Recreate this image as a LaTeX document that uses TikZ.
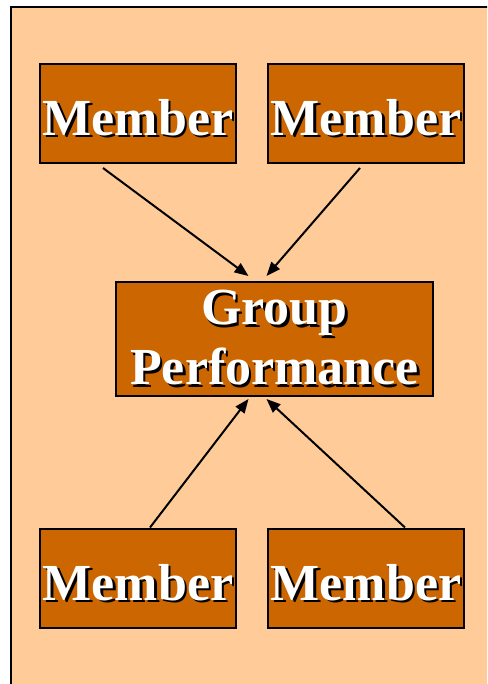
\documentclass[tikz,border=0pt]{standalone}
\usepackage{fontspec}
\setmainfont{Liberation Serif}
\usepackage{xcolor}
\usetikzlibrary{arrows.meta,positioning}

\definecolor{peach}{HTML}{FFCC99}
\definecolor{rust}{HTML}{CC6600}
\newcommand{\shadowtxt}[1]{\rlap{\kern2.5pt\raisebox{-2.5pt}{\textcolor{black}{#1}}}\textcolor{white}{#1}}

\begin{document}
\begin{tikzpicture}[x=1pt,y=-1pt,
    member/.style={draw,line width=2pt,fill=rust,minimum width=196pt,minimum height=99pt,inner sep=0pt,
      text height=44pt,text depth=0pt,font=\fontsize{52}{55}\selectfont\bfseries},
    goal/.style={draw,line width=2pt,fill=rust,minimum width=317pt,minimum height=114pt,inner sep=0pt,
      align=center,font=\fontsize{52}{60}\selectfont\bfseries},
    arrow/.style={-{Triangle[length=14pt,width=11pt]},line width=2pt}]
  \useasboundingbox (0,0) rectangle (487,684);
  \clip (0,0) rectangle (487,684);
  \draw[line width=2pt,fill=peach] (11,7) rectangle (530,730);

  \node[member] (mtl) at (138,113.5) {\shadowtxt{Member}};
  \node[member,right=30pt of mtl] (mtr) {\shadowtxt{Member}};
  \node[goal] (group) at (274.5,339) {\shadowtxt{Group}\\\shadowtxt{Performance}};
  \node[member] (mbl) at (138,578) {\shadowtxt{Member}};
  \node[member,right=30pt of mbl] (mbr) {\shadowtxt{Member}};

  \draw[arrow] ([xshift=-35pt,yshift=-4pt]mtl.south) -- ([xshift=-26pt,yshift=5pt]group.north);
  \draw[arrow] ([xshift=-6pt,yshift=-4pt]mtr.south) -- ([xshift=-8pt,yshift=5pt]group.north);
  \draw[arrow] ([xshift=12pt]mbl.north) -- ([xshift=-26pt,yshift=-2pt]group.south);
  \draw[arrow] ([xshift=39pt]mbr.north) -- ([xshift=-8pt,yshift=-2pt]group.south);
\end{tikzpicture}
\end{document}
